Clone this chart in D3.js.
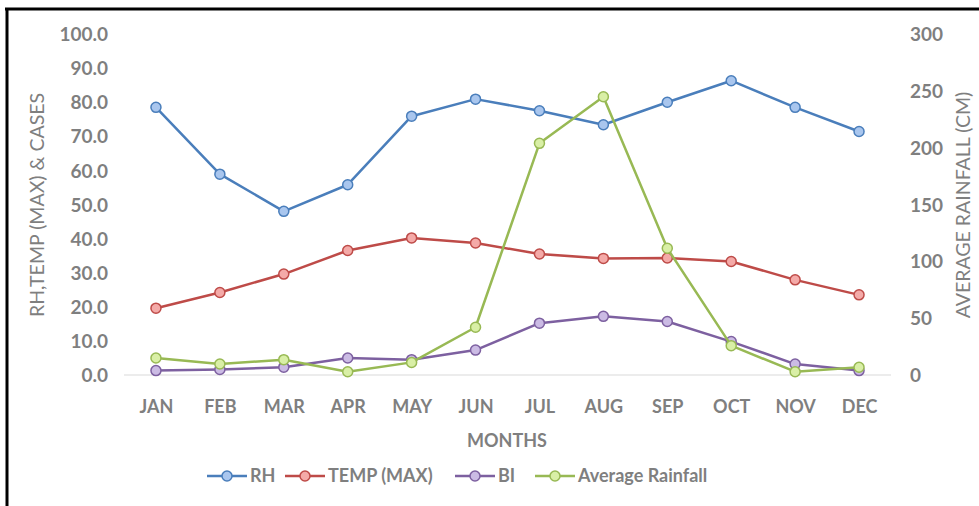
<!DOCTYPE html>
<html>
<head>
<meta charset="utf-8">
<script src="https://cdnjs.cloudflare.com/ajax/libs/d3/7.8.5/d3.min.js"></script>
<style>
    body { margin: 0; background: #fff; }
    text { font-family: Lato, "Open Sans", sans-serif; font-weight: bold; fill: #7f7f7f; }
    .title { font-weight: normal; }
</style>
</head>
<body>
<script>
// data
var months = ["JAN", "FEB", "MAR", "APR", "MAY", "JUN", "JUL", "AUG", "SEP", "OCT", "NOV", "DEC"];
var rh = [78.5, 58.9, 48.0, 55.8, 75.9, 80.9, 77.5, 73.4, 80.0, 86.3, 78.5, 71.4];
var tempMax = [19.6, 24.2, 29.6, 36.5, 40.2, 38.7, 35.5, 34.2, 34.3, 33.3, 27.9, 23.5];
var bi = [1.3, 1.6, 2.3, 5.0, 4.5, 7.3, 15.2, 17.2, 15.7, 9.8, 3.2, 1.3];
var rainfall = [15, 9.7, 13.5, 2.9, 11.1, 42, 203.8, 244.8, 111.5, 25.8, 2.9, 6.8];
var leftTicks = [0, 10, 20, 30, 40, 50, 60, 70, 80, 90, 100];
var rightTicks = [0, 50, 100, 150, 200, 250, 300];

var width = 979;
var height = 506;

var svg = d3.select("body")
    .append("svg")
    .attr("width", width)
    .attr("height", height);

// scales
var x = d3.scalePoint()
    .domain(months)
    .range([124, 891])
    .padding(0.5);

var yLeft = d3.scaleLinear()
    .domain([0, 100])
    .range([375, 34]);

var yRight = d3.scaleLinear()
    .domain([0, 300])
    .range([375, 34]);

// frame (only top and left edges show in the crop)
svg.append("line")
    .attr("x1", 5).attr("x2", width)
    .attr("y1", 9).attr("y2", 9)
    .attr("stroke", "#000").attr("stroke-width", 3);
svg.append("line")
    .attr("x1", 7).attr("x2", 7)
    .attr("y1", 9).attr("y2", height)
    .attr("stroke", "#000").attr("stroke-width", 3);

// left axis labels
var leftAxis = svg.append("g")
    .attr("transform", "translate(108,0)")
    .call(d3.axisLeft(yLeft).tickValues(leftTicks).tickFormat(d3.format(".1f")).tickSize(0).tickPadding(0));
leftAxis.select(".domain").remove();
leftAxis.selectAll("text").attr("font-size", 19).attr("dy", "0.35em");

// right axis labels
var rightAxis = svg.append("g")
    .attr("transform", "translate(910,0)")
    .call(d3.axisRight(yRight).tickValues(rightTicks).tickSize(0).tickPadding(0));
rightAxis.select(".domain").remove();
rightAxis.selectAll("text").attr("font-size", 19).attr("dy", "0.35em");

// baseline
svg.append("line")
    .attr("x1", 124).attr("x2", 891)
    .attr("y1", yLeft(0)).attr("y2", yLeft(0))
    .attr("stroke", "#d9d9d9").attr("stroke-width", 1);

// month labels
var xAxis = svg.append("g")
    .attr("transform", "translate(0," + 398 + ")")
    .call(d3.axisBottom(x).tickSize(0).tickPadding(0));
xAxis.select(".domain").remove();
xAxis.selectAll("text").attr("font-size", 18).attr("dy", "0.35em").attr("y", 9);

// axis titles
svg.append("text")
    .attr("x", 507).attr("y", 441).attr("dy", "0.35em")
    .attr("text-anchor", "middle")
    .attr("font-size", 18)
    .text("MONTHS");

svg.append("text")
    .attr("class", "title")
    .attr("transform", "translate(37,205) rotate(-90)")
    .attr("dy", "0.35em")
    .attr("text-anchor", "middle")
    .attr("font-size", 19.5)
    .text("RH,TEMP (MAX) & CASES");

svg.append("text")
    .attr("class", "title")
    .attr("transform", "translate(963,205) rotate(-90)")
    .attr("dy", "0.35em")
    .attr("text-anchor", "middle")
    .attr("font-size", 19.5)
    .text("AVERAGE RAINFALL (CM)");

// series
var series = [
    { name: "RH", values: rh, scale: yLeft, stroke: "#4a7ebb", fill: "#a9c6ee" },
    { name: "TEMP (MAX)", values: tempMax, scale: yLeft, stroke: "#be4b48", fill: "#f4aaa8" },
    { name: "BI", values: bi, scale: yLeft, stroke: "#7d60a0", fill: "#cbbbe4" },
    { name: "Average Rainfall", values: rainfall, scale: yRight, stroke: "#98b954", fill: "#d9efa6" }
];

series.forEach(function(s) {
    var pts = s.values.map(function(v, i) { return [x(months[i]), s.scale(v)]; });

    svg.append("path")
        .attr("d", d3.line()(pts))
        .attr("fill", "none")
        .attr("stroke", s.stroke)
        .attr("stroke-width", 2.5)
        .attr("stroke-linejoin", "round");

    svg.selectAll(null)
        .data(pts)
        .enter().append("circle")
        .attr("cx", function(d) { return d[0]; })
        .attr("cy", function(d) { return d[1]; })
        .attr("r", 5)
        .attr("fill", s.fill)
        .attr("stroke", s.stroke)
        .attr("stroke-width", 1.5);
});

// legend
var legendX = [207, 285, 455, 535];
var legend = svg.selectAll(".legend")
    .data(series)
    .enter().append("g")
    .attr("class", "legend")
    .attr("transform", function(d, i) { return "translate(" + legendX[i] + ",476)"; });

legend.append("line")
    .attr("x1", 0).attr("x2", 40)
    .attr("stroke", function(d) { return d.stroke; })
    .attr("stroke-width", 2.5);

legend.append("circle")
    .attr("cx", 20).attr("r", 5)
    .attr("fill", function(d) { return d.fill; })
    .attr("stroke", function(d) { return d.stroke; })
    .attr("stroke-width", 1.5);

legend.append("text")
    .attr("x", 43).attr("dy", "0.35em")
    .attr("font-size", 18)
    .text(function(d) { return d.name; });
</script>
</body>
</html>
